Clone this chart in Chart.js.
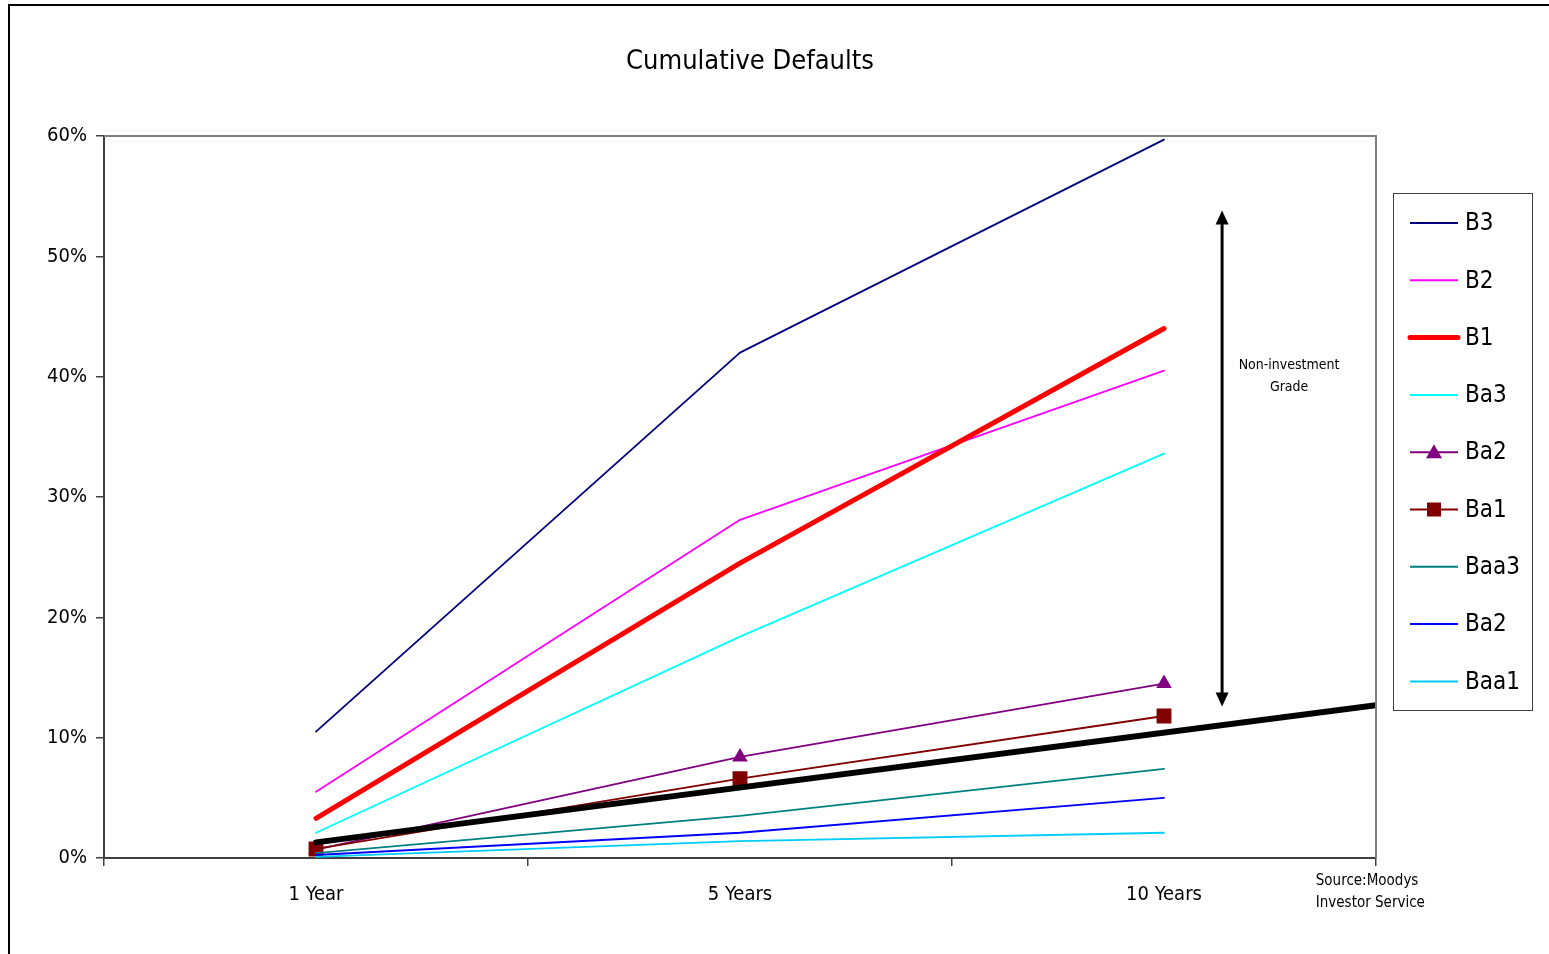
<!DOCTYPE html>
<html>
<head>
<meta charset="utf-8">
<script src="https://cdn.jsdelivr.net/npm/chart.js@4.4.1/dist/chart.umd.min.js"></script>
<style>
  html, body { margin: 0; padding: 0; background: #fff; overflow: hidden; }
  #frame { position: absolute; left: 8px; top: 4px; width: 1600px; height: 1000px; border: 2px solid #000; box-sizing: border-box; }
  #c { position: absolute; left: 0; top: 0; }
</style>
</head>
<body>
<div id="frame"></div>
<canvas id="c" width="1549" height="954"></canvas>
<script>
// ---- data ----
const categories = ['1 Year', '5 Years', '10 Years'];
const seriesNames = ['B3', 'B2', 'B1', 'Ba3', 'Ba2', 'Ba1', 'Baa3', 'Ba2', 'Baa1'];
const b3   = [10.5, 42.0, 59.7];
const b2   = [5.5, 28.1, 40.5];
const b1   = [3.3, 24.5, 44.0];
const ba3  = [2.1, 18.4, 33.6];
const ba2  = [0.7, 8.4, 14.5];
const ba1  = [0.75, 6.6, 11.8];
const baa3 = [0.4, 3.5, 7.4];
const ba2b = [0.25, 2.1, 5.0];
const baa1 = [0.1, 1.4, 2.1];
const dividerX = [0, 2.5];
const dividerY = [1.3, 12.7];
const yTicks = [0, 10, 20, 30, 40, 50, 60];
const arrowX = [2.137, 2.137];
const arrowY = [53.8, 12.6];
const noteText = ['Non-investment', 'Grade'];
const sourceText = ['Source:Moodys', 'Investor Service'];
const titleText = 'Cumulative Defaults';

const FONT = "'Liberation Sans Narrow', 'Arial Narrow', 'DejaVu Sans Condensed', sans-serif";

const seriesValues = [b3, b2, b1, ba3, ba2, ba1, baa3, ba2b, baa1];
const colors = ['#000080', '#FF00FF', '#FF0000', '#00FFFF', '#800080', '#800000', '#008080', '#0000FF', '#00CCFF'];
const widths = [1.8, 1.8, 5, 1.8, 1.8, 1.8, 1.8, 1.8, 1.8];
const pStyles = [false, false, false, false, 'triangle', 'rect', false, false, false];
const pRadius = [0, 0, 0, 0, 9, 10.5, 0, 0, 0];

const datasets = seriesValues.map((vals, i) => ({
  label: seriesNames[i],
  data: vals,
  borderColor: colors[i],
  backgroundColor: colors[i],
  borderWidth: widths[i],
  borderCapStyle: 'round',
  borderJoinStyle: 'round',
  pointStyle: pStyles[i] || 'circle',
  pointRadius: pRadius[i],
  pointBorderWidth: 0,
  pointBackgroundColor: colors[i],
  tension: 0,
  fill: false,
  order: 20 - i,
  xAxisID: 'x',
  yAxisID: 'y'
}));
datasets.push({
  label: 'divider',
  data: dividerX.map((x, i) => ({ x: x, y: dividerY[i] })),
  borderColor: '#000000',
  backgroundColor: '#000000',
  borderWidth: 6,
  borderCapStyle: 'round',
  pointRadius: 0,
  tension: 0,
  fill: false,
  order: 0,
  xAxisID: 'x2',
  yAxisID: 'y'
});

const decorPlugin = {
  id: 'decor',
  afterDraw(chart) {
    const ctx = chart.ctx;
    const a = chart.chartArea;
    const x2 = chart.scales.x2, y = chart.scales.y;
    ctx.save();
    // plot area top/right border
    ctx.strokeStyle = '#808080';
    ctx.lineWidth = 2;
    ctx.beginPath();
    ctx.moveTo(a.left, a.top);
    ctx.lineTo(a.right, a.top);
    ctx.lineTo(a.right, a.bottom);
    ctx.stroke();

    // title
    ctx.fillStyle = '#000';
    ctx.font = '27px ' + FONT;
    ctx.textAlign = 'center';
    ctx.textBaseline = 'middle';
    ctx.fillText(titleText, 750, 62);

    // double arrow
    const ax = x2.getPixelForValue(arrowX[0]);
    const at = y.getPixelForValue(arrowY[0]);
    const ab = y.getPixelForValue(arrowY[1]);
    const hl = 14, hw = 6.5;
    ctx.strokeStyle = '#000';
    ctx.lineWidth = 3;
    ctx.beginPath();
    ctx.moveTo(ax, at + hl - 2);
    ctx.lineTo(ax, ab - hl + 2);
    ctx.stroke();
    ctx.beginPath();
    ctx.moveTo(ax, at);
    ctx.lineTo(ax - hw, at + hl);
    ctx.lineTo(ax + hw, at + hl);
    ctx.closePath();
    ctx.fill();
    ctx.beginPath();
    ctx.moveTo(ax, ab);
    ctx.lineTo(ax - hw, ab - hl);
    ctx.lineTo(ax + hw, ab - hl);
    ctx.closePath();
    ctx.fill();

    // note text
    ctx.font = '14px ' + FONT;
    ctx.fillStyle = '#000';
    ctx.textAlign = 'center';
    const nx = x2.getPixelForValue(2.295);
    const ny = y.getPixelForValue(40.9);
    noteText.forEach((t, i) => ctx.fillText(t, nx, ny + i * 22));

    // source text
    ctx.font = '15px ' + FONT;
    ctx.textAlign = 'left';
    const sx = x2.getPixelForValue(2.358);
    sourceText.forEach((t, i) => ctx.fillText(t, sx, a.bottom + 23 + i * 22));

    // legend
    const lx = 1393, ly = 193, lw = 139, lh = 517;
    ctx.strokeStyle = '#404040';
    ctx.lineWidth = 1;
    ctx.strokeRect(lx + 0.5, ly + 0.5, lw, lh);
    const ds = chart.data.datasets.slice(0, seriesNames.length);
    ctx.font = '24px ' + FONT;
    ctx.textAlign = 'left';
    ctx.textBaseline = 'middle';
    ds.forEach((d, i) => {
      const yy = 223 + i * 57.3;
      ctx.strokeStyle = d.borderColor;
      ctx.lineWidth = d.borderWidth >= 4 ? 5 : 2;
      ctx.lineCap = d.borderWidth >= 4 ? 'round' : 'butt';
      ctx.beginPath();
      ctx.moveTo(1410, yy);
      ctx.lineTo(1458, yy);
      ctx.stroke();
      if (d.pointRadius > 0) {
        ctx.fillStyle = d.pointBackgroundColor;
        ctx.beginPath();
        if (d.pointStyle === 'triangle') {
          ctx.moveTo(1434, yy - 8);
          ctx.lineTo(1442, yy + 6);
          ctx.lineTo(1426, yy + 6);
          ctx.closePath();
        } else {
          ctx.rect(1427, yy - 7, 14, 14);
        }
        ctx.fill();
      }
      ctx.fillStyle = '#000';
      ctx.fillText(d.label, 1465, yy + 1);
    });
    ctx.restore();
  }
};

new Chart(document.getElementById('c'), {
  type: 'line',
  data: { labels: categories, datasets: datasets },
  options: {
    responsive: false,
    animation: false,
    devicePixelRatio: 1,
    layout: { padding: { left: 0, right: 173, top: 136, bottom: 36 } },
    plugins: { legend: { display: false }, tooltip: { enabled: false }, title: { display: false } },
    scales: {
      x: {
        type: 'category',
        offset: true,
        grid: { offset: true, drawOnChartArea: false, tickLength: 8, color: '#404040', lineWidth: 1.5 },
        border: { color: '#404040', width: 2 },
        ticks: { color: '#000', font: { family: FONT, size: 20 }, padding: 17, maxRotation: 0 },
        afterFit(s) { s.height = 60; }
      },
      x2: {
        type: 'linear',
        display: false,
        min: -0.5,
        max: 2.5
      },
      y: {
        type: 'linear',
        min: 0,
        max: 60,
        afterBuildTicks(s) { s.ticks = yTicks.map(v => ({ value: v })); },
        grid: { drawOnChartArea: false, tickLength: 8, color: '#404040', lineWidth: 1.5 },
        border: { color: '#404040', width: 2 },
        ticks: { color: '#000', font: { family: FONT, size: 20 }, padding: 9, callback: v => v + '%' },
        afterFit(s) { s.width = 104; }
      }
    }
  },
  plugins: [decorPlugin]
});
</script>
</body>
</html>
